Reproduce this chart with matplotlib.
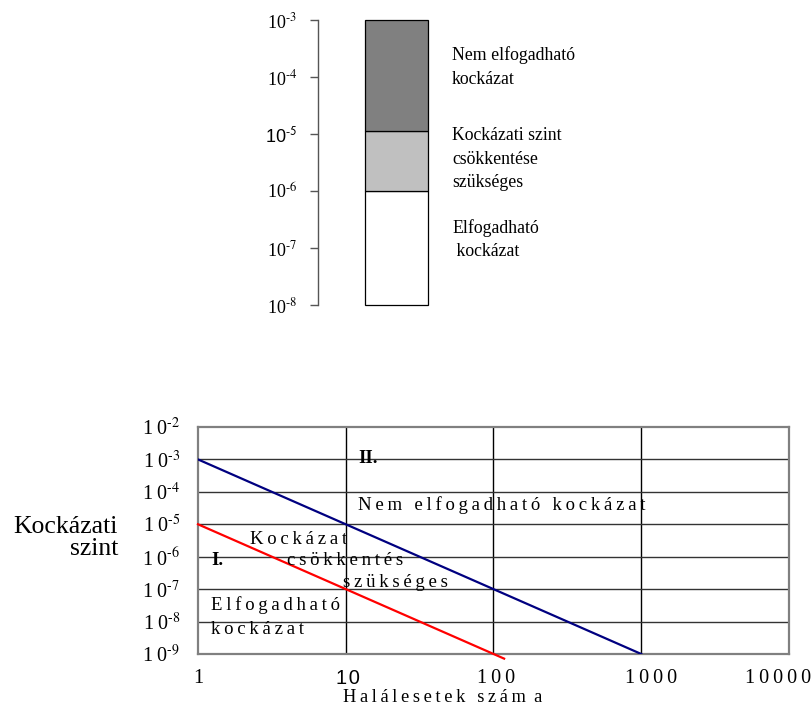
import matplotlib
matplotlib.use('Agg')
import matplotlib.pyplot as plt
import matplotlib.transforms as mtransforms

plt.rcParams['font.family'] = ['Liberation Serif', 'DejaVu Serif']
plt.rcParams['mathtext.fontset'] = 'stix'

W, H = 812, 708
TS = '\u2009'  # thin space for letter spacing
HY = '\u2010'  # short hyphen for exponents

# ---------------- data: upper chart ----------------
zone_labels = ['Elfogadható\n kockázat',
               'Kockázati szint\ncsökkentése\nszükséges',
               'Nem elfogadható\nkockázat']
zone_bounds = [1e-8, 1e-6, 1.13e-5, 1e-3]
zone_colors = ['#ffffff', '#c0c0c0', '#808080']
zone_label_y = [1.4e-7, 3.6e-6, 1.5e-4]
top_exponents = [-8, -7, -6, -5, -4, -3]

# ---------------- data: lower chart ----------------
x_ticks = [1, 10, 100, 1000, 10000]
x_tick_labels = ['1', '10', '100', '1000', '10000']
x_label_shift_px = [0, 2, 3, 10, -11]
y_exponents = [-9, -8, -7, -6, -5, -4, -3, -2]
upper_line_x = [1, 1000]
upper_line_y = [1e-3, 1e-9]
lower_line_x = [1, 118]
lower_line_y = [1e-5, 7.2e-10]

region_texts = [
    ('II.', 12.1, 1.1e-3, True),
    ('I.', 1.24, 7.4e-7, True),
    ('Nem elfogadható kockázat', 12.1, 3.9e-5, False),
    ('Kockázat', 2.25, 3.5e-6, False),
    ('csökkentés', 4.0, 7.9e-7, False),
    ('szükséges', 9.6, 1.55e-7, False),
    ('Elfogadható', 1.22, 3.2e-8, False),
    ('kockázat', 1.22, 5.5e-9, False),
]


def spaced(s):
    return (TS + ' ' + TS).join(TS.join(w) for w in s.split(' '))


def expo(e):
    return '$^{' + HY + str(abs(e)) + '}$'


fig = plt.figure(figsize=(W / 100, H / 100), dpi=100)


def px_axes(x0, y0, x1, y1):
    return fig.add_axes([x0 / W, 1 - y1 / H, (x1 - x0) / W, (y1 - y0) / H])


# ================= upper chart =================
ax1 = px_axes(318, 20, 600, 305)
ax1.set_yscale('log')
ax1.set_ylim(1e-8, 1e-3)
ax1.set_xlim(-0.25, 4.25)
for lo, hi, c in zip(zone_bounds[:-1], zone_bounds[1:], zone_colors):
    bars = ax1.bar([1], [hi - lo], bottom=[lo], width=1.0, color=c,
                   edgecolor='black', linewidth=0.9, zorder=3)
    for b in bars:
        b.set_clip_on(False)
for lab, yy in zip(zone_labels, zone_label_y):
    ax1.text(1.89, yy, lab, fontsize=12.8, ha='left', va='center',
             linespacing=1.5, color='black')
for side in ['top', 'right', 'bottom']:
    ax1.spines[side].set_visible(False)
ax1.spines['left'].set_color('#555555')
ax1.spines['left'].set_linewidth(1.0)
ax1.set_xticks([])
ax1.yaxis.set_minor_locator(matplotlib.ticker.NullLocator())
ax1.set_yticks([10.0 ** e for e in top_exponents])
ax1.set_yticklabels(['10' + expo(e) for e in top_exponents])
ax1.tick_params(axis='y', which='major', length=6, width=1.0, color='#555555',
                pad=9, labelsize=13)
for t, e in zip(ax1.get_yticklabels(), top_exponents):
    if e == -5:
        t.set_fontfamily(['Liberation Sans', 'DejaVu Sans'])
        t.set_math_fontfamily('stixsans')

# ================= lower chart =================
ax2 = px_axes(198, 427, 789, 654)
ax2.set_xscale('log')
ax2.set_yscale('log')
ax2.set_xlim(1, 10000)
ax2.set_ylim(1e-9, 1e-2)

for xv in x_ticks[1:-1]:
    ax2.axvline(xv, color='black', linewidth=1.0, zorder=1)
for e in y_exponents[1:-1]:
    ax2.axhline(10.0 ** e, color='#333333', linewidth=1.0, zorder=1)

ax2.plot(upper_line_x, upper_line_y, color='#000080', linewidth=1.6, zorder=3)
ax2.plot(lower_line_x, lower_line_y, color='#ff0000', linewidth=1.6, zorder=3,
         clip_on=False)

for s, xv, yv, bold in region_texts:
    ax2.text(xv, yv, s if bold else spaced(s), fontsize=13.5, ha='left',
             va='center', fontweight='bold' if bold else 'normal',
             color='black', zorder=4)

for sp in ax2.spines.values():
    sp.set_color('#808080')
    sp.set_linewidth(1.6)

ax2.xaxis.set_minor_locator(matplotlib.ticker.NullLocator())
ax2.yaxis.set_minor_locator(matplotlib.ticker.NullLocator())
ax2.set_xticks(x_ticks)
ax2.set_xticklabels([('1' + '\u200a' + '0') if lab == '10' else spaced(lab)
                     for lab in x_tick_labels])
ax2.set_yticks([10.0 ** e for e in y_exponents])
ax2.set_yticklabels([spaced('10') + expo(e) for e in y_exponents])
ax2.tick_params(axis='both', which='major', length=0, labelsize=14.5)
ax2.tick_params(axis='x', pad=11)
ax2.tick_params(axis='y', pad=13)
for t, lab, sh in zip(ax2.get_xticklabels(), x_tick_labels, x_label_shift_px):
    if lab == '10':
        t.set_fontfamily(['Liberation Sans', 'DejaVu Sans'])
        t.set_fontsize(14.5)
    t.set_transform(t.get_transform() +
                    mtransforms.ScaledTranslation(sh / 100, 0, fig.dpi_scale_trans))

fig.text(118 / W, 1 - 538 / H, 'Kockázati\nszint', fontsize=18.5, ha='right',
         va='center', linespacing=1.05)
fig.text(343 / W, 1 - 697 / H, spaced('Halálesetek szám') + TS + ' ' + 'a',
         fontsize=13.2, ha='left', va='center')

fig.savefig('out.png', dpi=100)
